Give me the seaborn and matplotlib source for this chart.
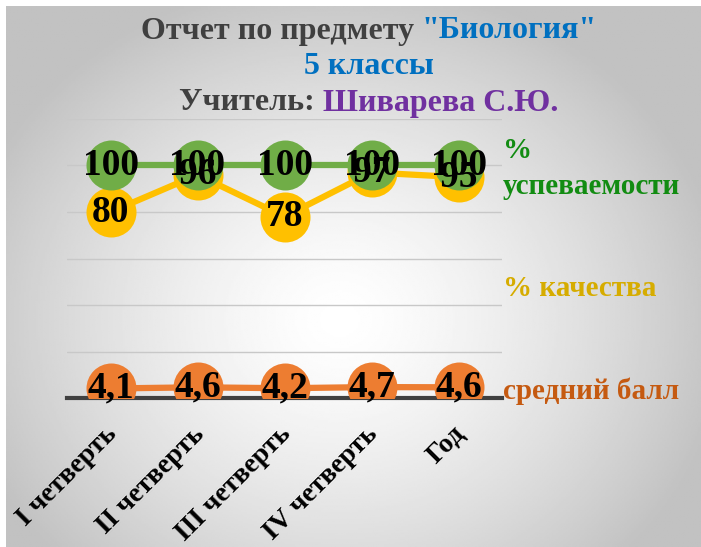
import numpy as np
import matplotlib
matplotlib.use("Agg")
import matplotlib.pyplot as plt
import matplotlib.transforms as mtransforms
import seaborn as sns

# ---------------------------
# DATA
# ---------------------------
periods = ["I четверть", "II четверть", "III четверть", "IV четверть", "Год"]
success = [100, 100, 100, 100, 100]      # % успеваемости
quality = [80, 96, 78, 97, 95]           # % качества
avg_score = [4.1, 4.6, 4.2, 4.7, 4.6]    # средний балл
avg_labels = ["4,1", "4,6", "4,2", "4,7", "4,6"]

GREEN, YELLOW, ORANGE = "#70AD47", "#FFC000", "#ED7D31"
SERIF = ["Liberation Serif", "DejaVu Serif"]

sns.set_theme(style="white")
plt.rcParams["font.family"] = SERIF

W, H = 701, 547
fig = plt.figure(figsize=(W / 100, H / 100), dpi=100)
fig.patch.set_facecolor("white")

# background panel with radial grey gradient
bg = fig.add_axes([6 / W, 0, 1 - 6 / W, 1 - 6 / H], zorder=-5)
yy, xx = np.mgrid[0:1:300j, 0:1:400j]
r = np.sqrt(((xx - 0.48) / 0.75) ** 2 + ((yy - 0.58) / 0.85) ** 2)
shade = 1 - 0.24 * np.clip(r / 0.75, 0, 1) ** 1.4
bg.imshow(shade, cmap="gray", vmin=0, vmax=1, aspect="auto", extent=[0, 1, 0, 1], origin="upper")
bg.set_axis_off()

ax = fig.add_axes([67 / W, 1 - 398 / H, 435 / W, (398 - 119) / H])
ax.set_facecolor("none")

lw = 4.5
ms = 36
sns.lineplot(x=periods, y=quality, ax=ax, color=YELLOW, lw=lw, marker="o",
             markersize=ms, markeredgewidth=0, sort=False, zorder=3)
sns.lineplot(x=periods, y=success, ax=ax, color=GREEN, lw=lw, marker="o",
             markersize=ms, markeredgewidth=0, sort=False, zorder=4)
sns.lineplot(x=periods, y=avg_score, ax=ax, color=ORANGE, lw=lw, marker="o",
             markersize=ms, markeredgewidth=0, sort=False, zorder=4)

lab_kw = dict(ha="center", va="center", fontsize=27, fontweight="bold", color="black", zorder=6)
for i in range(len(periods)):
    ax.text(i, quality[i], str(quality[i]), **lab_kw)
    ax.text(i, success[i], str(success[i]), **lab_kw)
    ax.text(i, avg_score[i], avg_labels[i], **lab_kw)

ax.set_xlim(-0.5, len(periods) - 0.5)
ax.set_ylim(0, 120)
ax.set_yticks(range(0, 121, 20))
ax.set_yticklabels([])
ax.grid(axis="y", color="#C8C8C8", lw=1)
ax.set_axisbelow(True)
for s in ["top", "right", "left"]:
    ax.spines[s].set_visible(False)
ax.spines["bottom"].set_color("#404040")
ax.spines["bottom"].set_linewidth(3)
ax.spines["bottom"].set_zorder(2)
ax.tick_params(axis="x", length=0, pad=17)
ax.tick_params(axis="y", length=0)
ax.set_xlabel("")
ax.set_ylabel("")
shift = mtransforms.ScaledTranslation(-6 / 100, 0, fig.dpi_scale_trans)
for tk in ax.xaxis.get_major_ticks():
    t = tk.label1
    t.set_transform(t.get_transform() + shift)
    t.set_rotation(45)
    t.set_ha("right")
    t.set_va("top")
    t.set_rotation_mode("anchor")
    t.set_fontsize(20)
    t.set_fontweight("bold")
    t.set_color("black")

# series names on the right
side_kw = dict(transform=fig.transFigure, ha="left", va="center", fontsize=21, fontweight="bold")
fig.text(503 / W, 1 - 150 / H, "%", color="#128C12", **side_kw)
fig.text(503 / W, 1 - 186 / H, "успеваемости", color="#128C12", **side_kw)
fig.text(503 / W, 1 - 289 / H, "% качества", color="#D6AC00", **side_kw)
fig.text(503 / W, 1 - 391 / H, "средний балл", color="#C55A11", **side_kw)


# multi-coloured title lines
def colored_line(parts, y, size):
    renderer = fig.canvas.get_renderer()
    texts = []
    for s, c in parts:
        texts.append(fig.text(0, 1 - y / H, s, color=c, fontsize=size, fontweight="bold",
                              ha="left", va="center"))
    widths = [t.get_window_extent(renderer).width for t in texts]
    x = (W * 0.526 - sum(widths) / 2)
    for t, w in zip(texts, widths):
        t.set_x(x / W)
        x += w


colored_line([("Отчет по предмету ", "#404040"), ('"Биология"', "#0070C0")], 31, 23)
colored_line([("5 классы", "#0070C0")], 67, 23)
colored_line([("Учитель: ", "#404040"), ("Шиварева С.Ю.", "#7030A0")], 103, 23)

fig.savefig("out.png", dpi=100)
